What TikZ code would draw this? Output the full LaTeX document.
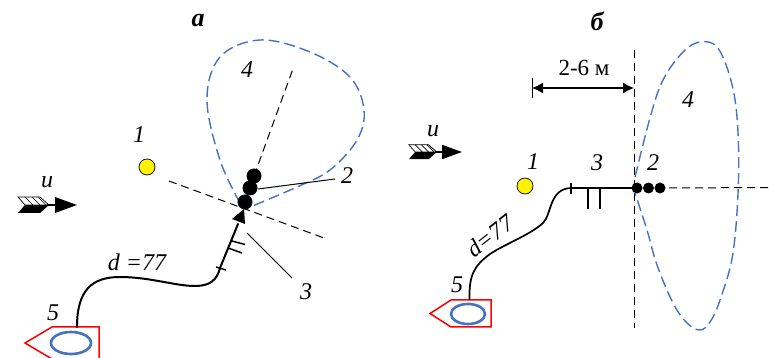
\documentclass[tikz,border=0pt]{standalone}
\usepackage{fontspec}
\setmainfont{Liberation Serif}
\usetikzlibrary{arrows.meta}
\definecolor{lobeblue}{RGB}{68,114,196}
\tikzset{
  lbl/.style={font=\fontsize{24}{24}\selectfont\itshape,inner sep=0pt},
  head/.style={font=\fontsize{26}{26}\selectfont\bfseries\itshape,inner sep=0pt},
  dash1/.style={black,line width=1pt,dash pattern=on 8pt off 5pt},
  lobe/.style={lobeblue,line width=1.4pt,dash pattern=on 11pt off 5pt,smooth,tension=0.6},
  track/.style={black,line width=2pt,line cap=round},
  hull/.style={red,line width=1.5pt,fill=white,line join=miter},
  wheel/.style={lobeblue,line width=2.6pt,fill=white},
  source/.style={circle,draw=black,line width=0.7pt,fill=yellow,minimum size=16pt,inner sep=0pt},
  bead/.style={circle,fill=black,inner sep=0pt},
  leader/.style={black,line width=1pt},
}
\newcommand{\windarrow}[3]{% x, y, scale
  \begin{scope}[shift={(#1,#2)},scale=#3]
    \fill[black] (-29,8) -- (-22,0) -- (2,0) -- (-7,8) -- cycle;
    \fill[white,draw=black,line width=0.7pt] (-29,-8) -- (-22,0) -- (2,0) -- (-7,-8) -- cycle;
    \draw[black,line width=0.7pt] (-22,-8) -- (-14,0) (-15,-8) -- (-7,0) (-9,-8) -- (-1,0);
    \draw[black,line width=1.4pt] (0,0) -- (10,0);
    \fill[black] (8,-8) -- (30,0) -- (8,8) -- cycle;
  \end{scope}}
\begin{document}
\begin{tikzpicture}[x=1pt,y=-1pt]
\useasboundingbox (0,0) rectangle (769,358);
% ---------- panel a
\node[head] (titleA) at (198,21) {а};
\windarrow{47}{205}{1}
\node[lbl] (uA) at (47,182) {u};
\node[source] (sunA) at (147,167) {};
\node[lbl] (oneA) at (139,135) {1};
\node[lbl] (fourA) at (247,70) {4};
\node[lbl] (twoA) at (347,176) {2};
\node[lbl] (threeA) at (306,292) {3};
\node[lbl] (fiveA) at (53,313) {5};
\node[lbl,anchor=center] (dA) at (137,262) {d =77};
\coordinate (crossL) at (169,181);
\coordinate (crossR) at (324,238);
\coordinate (axisA) at (294,66);
\coordinate (axisB) at (254,176);
\draw[dash1] (crossL) -- (crossR);
\draw[dash1] (axisB) -- (axisA);
\draw[lobe] plot coordinates {(240,203) (220,160) (207,100) (220,57) (260,40) (310,52) (350,77) (364,110) (357,140) (330,170) (297,187) (250,207)};
\node[bead,minimum size=15pt] (b1A) at (254,176) {};
\node[bead,minimum size=15pt] (b2A) at (250,188) {};
\node[bead,minimum size=15pt] (b3A) at (245,202) {};
\coordinate (lead2) at (335,179);
\draw[leader] (b2A.center) ++(8,1) -- (lead2);
\coordinate (lead3a) at (247,233);
\coordinate (lead3b) at (292,278);
\draw[leader] (lead3a) -- (lead3b);
\filldraw[hull] (99,358.5) -- (99,327) -- (52,327) -- (25,343) -- (52,359) ;
\draw[wheel] (71,343) ellipse (20 and 11);
\coordinate (trackA0) at (77,327);
\coordinate (trackA1) at (220,268);
\coordinate (tipA) at (244,209);
\draw[track] (trackA0) .. controls (77,290) and (92,277) .. (120,277)
  .. controls (150,277) and (175,286) .. (195,286)
  .. controls (210,286) and (217,280) .. (220,268) -- (238,224);
\fill[black] (tipA) -- (245,224) -- (232,219) -- cycle;
\draw[black,line width=1.5pt] (216,267) -- (226,270) (232,241) -- (245,244.5) (228,248) -- (242,253);
% ---------- panel b
\node[head] (titleB) at (597,21) {б};
\windarrow{435}{152}{0.9}
\node[lbl] (uB) at (433,131) {u};
\node[source] (sunB) at (525,186) {};
\node[lbl] (oneB) at (533,162) {1};
\node[lbl] (threeB) at (597,163) {3};
\node[lbl] (twoB) at (653,163) {2};
\node[lbl] (fourB) at (688,100) {4};
\node[lbl] (fiveB) at (457,285) {5};
\node[lbl,rotate=38] (dB) at (490,236) {d=77};
\node[inner sep=0pt,font=\fontsize{23}{23}\selectfont] (dimT) at (584,68) {2-6 м};
\coordinate (vtop) at (634.5,50);
\coordinate (vbot) at (634.5,328);
\draw[dash1] (vtop) -- (vbot);
\coordinate (hA) at (669,188);
\coordinate (hB) at (769,187.5);
\draw[dash1] (hA) -- (hB);
\draw[lobe] plot coordinates {(635,177) (650,118) (663,80) (683,52) (700,42) (717,47) (730,77) (737,117) (738.5,180) (733,253) (720,300) (710,322) (700,330) (687,323) (673,303) (657,265) (647,230) (635,193)};
\node[bead,minimum size=11pt] (b1B) at (637,188) {};
\node[bead,minimum size=11pt] (b2B) at (648.5,188) {};
\node[bead,minimum size=11pt] (b3B) at (660,188) {};
\coordinate (dimL) at (532,88);
\coordinate (dimR) at (634,88);
\draw[black,line width=1.2pt,{Latex[length=11pt,width=11pt]}-{Latex[length=11pt,width=11pt]}] (dimL) -- (dimR);
\draw[black,line width=1pt] (532,78) -- (532,98);
\filldraw[hull] (491,327) -- (491,300) -- (451,300) -- (430,313.5) -- (451,327) -- cycle;
\draw[wheel] (468,314) ellipse (17 and 10);
\coordinate (trackB0) at (469.5,299);
\draw[black,line width=1.7pt,line cap=round] (trackB0) .. controls (469,275) and (474,266) .. (490,254)
  .. controls (505,244) and (530,235) .. (543,223)
  .. controls (552,214) and (549,188) .. (572,188) -- (b1B.center);
\draw[black,line width=1.5pt] (571,183) -- (571,194) (588,188) -- (588,209) (600,188) -- (600,209);
\end{tikzpicture}
\end{document}
